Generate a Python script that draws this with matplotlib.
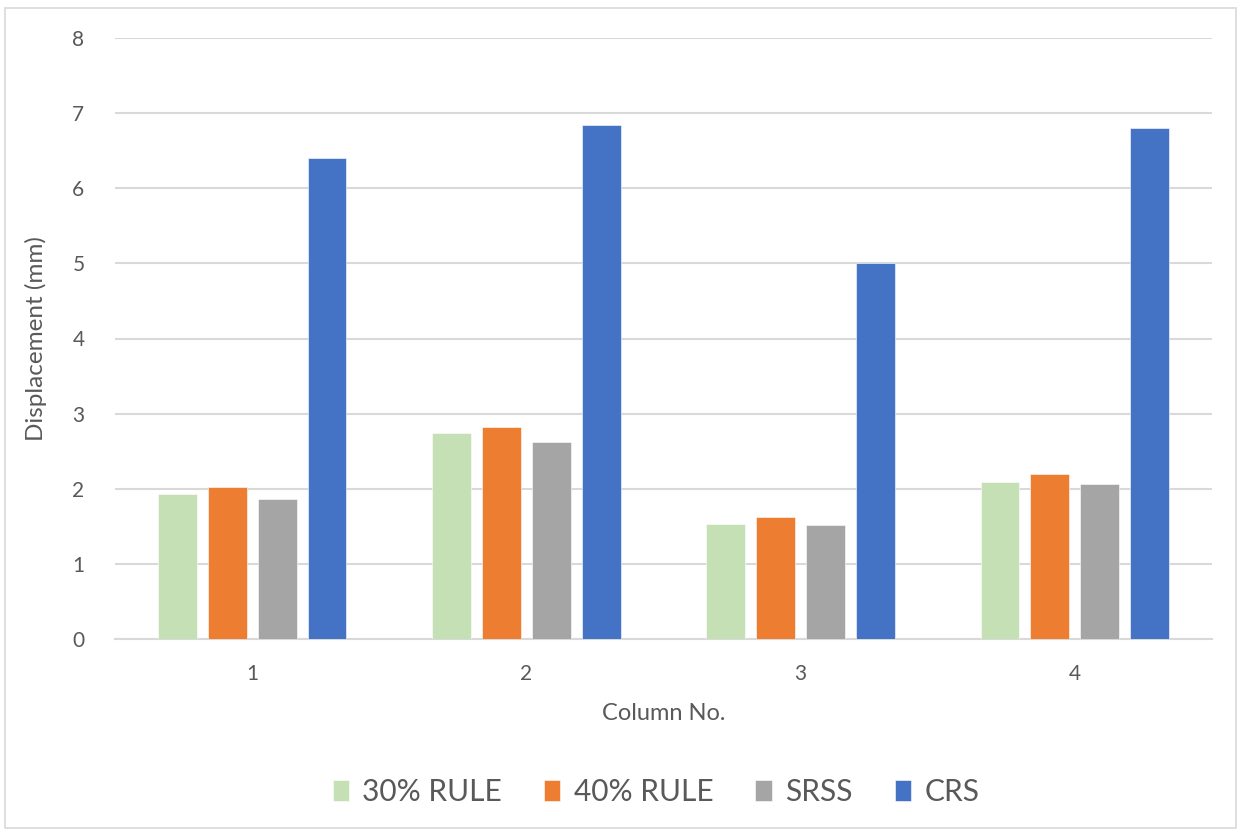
import matplotlib
matplotlib.use("Agg")
import matplotlib.pyplot as plt
import numpy as np
from matplotlib.patches import Rectangle

columns = ["1", "2", "3", "4"]
series_names = ["30% RULE", "40% RULE", "SRSS", "CRS"]
rule30 = [1.93, 2.74, 1.53, 2.09]
rule40 = [2.02, 2.82, 1.62, 2.20]
srss = [1.87, 2.62, 1.52, 2.06]
crs = [6.40, 6.84, 5.00, 6.80]
colors = ["#C5E0B4", "#ED7D31", "#A5A5A5", "#4472C4"]

plt.rcParams["font.family"] = ["Lato", "DejaVu Sans"]
text_color = "#595959"
grid_color = "#D9D9D9"

fig = plt.figure(figsize=(12.42, 8.31), dpi=100)
fig.patches.append(Rectangle((5 / 1242, 3 / 831), 1231 / 1242, 820 / 831,
                             transform=fig.transFigure, fill=False,
                             edgecolor=grid_color, linewidth=1.2))

ax = fig.add_axes([115 / 1242, 1 - 639 / 831, 1097 / 1242, 601 / 831])

x = np.arange(len(columns))
width = 0.142
pitch = 0.182
all_series = [rule30, rule40, srss, crs]
for i, (vals, name, col) in enumerate(zip(all_series, series_names, colors)):
    offset = (i - 1.5) * pitch
    ax.bar(x + offset, vals, width=width, color=col, label=name, zorder=3,
           edgecolor="white", linewidth=0.4)

ax.set_xlim(-0.5, 3.5)
ax.set_ylim(0, 8)
ax.set_yticks(range(0, 9))
ax.set_xticks(x)
ax.set_xticklabels(columns)
ax.yaxis.grid(True, color=grid_color, linewidth=1.5, zorder=0)
ax.set_axisbelow(True)
for s in ["top", "right", "left"]:
    ax.spines[s].set_visible(False)
ax.spines["bottom"].set_color(grid_color)
ax.spines["bottom"].set_linewidth(1.5)
ax.tick_params(axis="both", length=0, labelsize=15, labelcolor=text_color)
ax.tick_params(axis="y", pad=22)
ax.tick_params(axis="x", pad=18)

ax.set_xlabel("Column No.", fontsize=17, color=text_color, labelpad=14)
ax.set_ylabel("Displacement (mm)", fontsize=17.5, color=text_color, labelpad=18)

handles, labels = ax.get_legend_handles_labels()
fig.legend(handles, labels, loc="center", bbox_to_anchor=(656 / 1242, 1 - 792 / 831),
           ncol=4, frameon=False, fontsize=21.5, labelcolor=text_color,
           handlelength=0.55, handleheight=0.72, handletextpad=0.45, columnspacing=1.4)

fig.savefig("out.png", dpi=100, facecolor="white")
